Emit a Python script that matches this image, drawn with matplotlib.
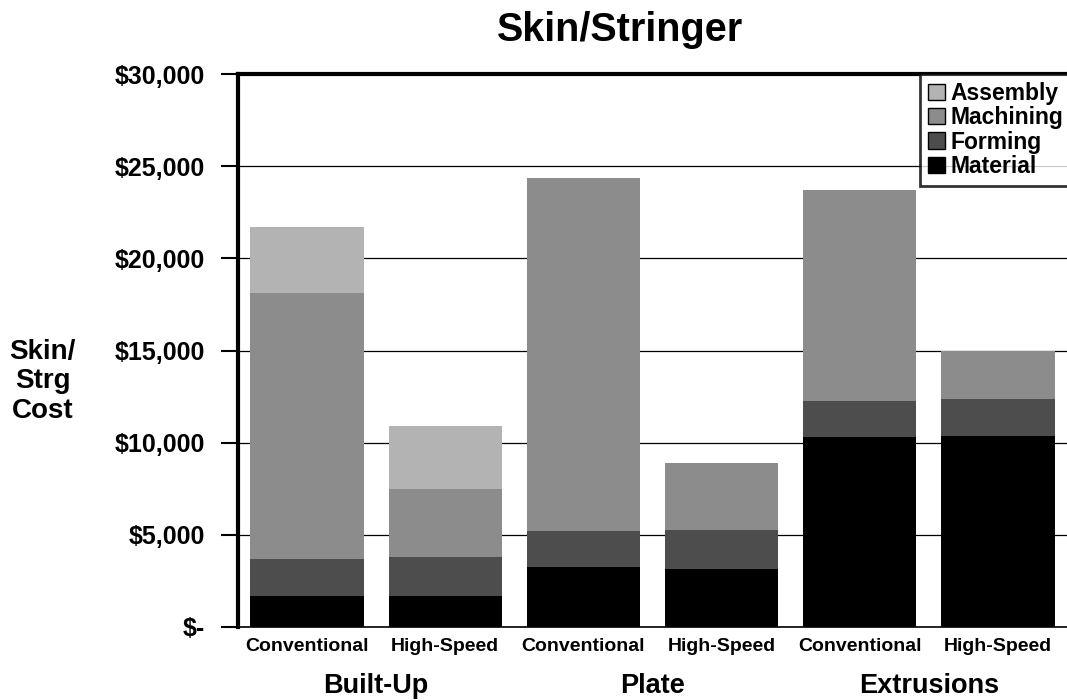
import matplotlib
matplotlib.use("Agg")
import matplotlib.pyplot as plt
import numpy as np
from matplotlib.ticker import FuncFormatter

plt.rcParams['font.family'] = ['Liberation Sans', 'DejaVu Sans']
plt.rcParams['font.weight'] = 'bold'

groups = ["Built-Up", "Plate", "Extrusions"]
methods = ["Conventional", "High-Speed"]
material = [1700, 1700, 3250, 3150, 10300, 10350]
forming = [2000, 2100, 1950, 2100, 1950, 2000]
machining = [14400, 3700, 19150, 3650, 11450, 2650]
assembly = [3600, 3400, 0, 0, 0, 0]

series = [("Material", material, "#000000"),
          ("Forming", forming, "#4d4d4d"),
          ("Machining", machining, "#8c8c8c"),
          ("Assembly", assembly, "#b3b3b3")]

fig = plt.figure(figsize=(10.67, 7.0), dpi=100)
ax = fig.add_axes([0.223, 0.1043, 0.777, 0.7897])

x = np.arange(len(material))
bottom = np.zeros(len(material))
handles = []
for name, vals, col in series:
    vals = np.array(vals, dtype=float)
    h = ax.bar(x, vals, width=0.82, bottom=bottom, color=col, zorder=3, label=name)
    handles.append(h)
    bottom += vals

ax.set_xlim(-0.5, len(material) - 0.5)
ax.set_ylim(0, 30000)
ax.set_yticks(np.arange(0, 30001, 5000))
ax.yaxis.set_major_formatter(FuncFormatter(lambda v, p: "$-" if v == 0 else f"${v:,.0f}"))
ax.tick_params(axis='y', direction='out', length=12, width=1.5, labelsize=18, pad=12)
ax.tick_params(axis='x', length=0, labelsize=14, pad=8)
ax.set_xticks(x)
ax.set_xticklabels(methods * len(groups))
ax.yaxis.grid(True, color='#000000', linewidth=0.9, zorder=0)
ax.set_axisbelow(True)

for s in ['left', 'top']:
    ax.spines[s].set_linewidth(3)
ax.spines['bottom'].set_linewidth(1.2)
ax.spines['right'].set_visible(False)

for i, g in enumerate(groups):
    ax.text(2 * i + 0.5, 14 / 700, g, transform=matplotlib.transforms.blended_transform_factory(ax.transData, fig.transFigure),
            ha='center', va='center', fontsize=19.5, fontweight='bold')

fig.text(0.04, 0.455, "Skin/\nStrg\nCost", ha='center', va='center',
         fontsize=20, fontweight='bold', linespacing=1.15)
fig.text(0.581, 0.957, "Skin/Stringer", ha='center', va='center',
         fontsize=28.5, fontweight='bold')

leg = ax.legend(handles[::-1], [s[0] for s in series][::-1], loc='upper right',
                bbox_to_anchor=(1.005, 1.0), fontsize=16.5, frameon=True, fancybox=False,
                handlelength=0.7, handleheight=0.7, handletextpad=0.25,
                labelspacing=0.05, borderpad=0.35, borderaxespad=0)
leg.get_frame().set_edgecolor('black')
leg.get_frame().set_linewidth(2)
for p in leg.get_patches():
    p.set_edgecolor('black')
    p.set_linewidth(1)

fig.savefig("out.png", dpi=100)
